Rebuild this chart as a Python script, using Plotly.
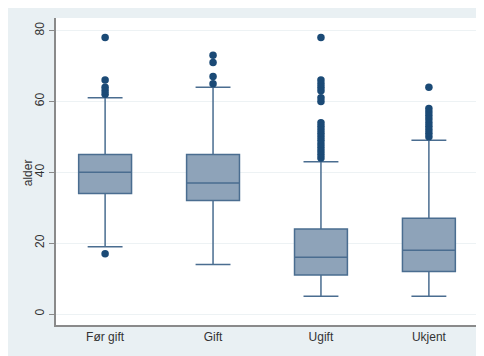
import plotly.graph_objects as go

categories = ["Før gift", "Gift", "Ugift", "Ukjent"]
q1 = [34, 32, 11, 12]
median = [40, 37, 16, 18]
q3 = [45, 45, 24, 27]
lower_whisker = [19, 14, 5, 5]
upper_whisker = [61, 64, 43, 49]
outliers = {
    "Før gift": [17, 62, 63, 64, 66, 78],
    "Gift": [65, 67, 71, 73],
    "Ugift": [44, 45, 46, 47, 48, 49, 50, 51, 52, 53, 54, 60, 61, 63, 64, 65, 66, 78],
    "Ukjent": [50, 51, 52, 53, 54, 55, 56, 57, 58, 64],
}
y_ticks = [0, 20, 40, 60, 80]
y_title = "alder"

# page body has an 8px margin, so the figure is placed at (8, 8)
W, H = 476, 348
ml, mr, mt, mb = 48, 6, 10, 31
pw = W - ml - mr

fig = go.Figure()
for i, c in enumerate(categories):
    fig.add_trace(go.Box(
        x=[c], q1=[q1[i]], median=[median[i]], q3=[q3[i]],
        lowerfence=[lower_whisker[i]], upperfence=[upper_whisker[i]],
        boxpoints=False, width=0.49, whiskerwidth=0.66,
        fillcolor="#8ea3b9", line=dict(color="#4a6d90", width=1.5),
        showlegend=False, hoverinfo="skip",
    ))

ox, oy = [], []
for c in categories:
    for v in outliers[c]:
        ox.append(c)
        oy.append(v)
fig.add_trace(go.Scatter(
    x=ox, y=oy, mode="markers",
    marker=dict(color="#1b4a76", size=7.5, line=dict(width=0)),
    showlegend=False, hoverinfo="skip",
))

fig.update_layout(
    width=W, height=H,
    margin=dict(l=ml, r=mr, t=mt, b=mb, pad=0, autoexpand=False),
    paper_bgcolor="#e9f0f3", plot_bgcolor="white",
    font=dict(family="Liberation Sans, Arial, sans-serif", size=12, color="#333333"),
    annotations=[dict(
        text=y_title, xref="paper", yref="y", x=(20 - ml) / pw, y=40,
        xanchor="center", yanchor="middle", textangle=-90, showarrow=False,
        font=dict(size=12, color="#333333"),
    )],
    xaxis=dict(
        type="category", range=[-0.455, 3.455], automargin=False,
        showline=True, linecolor="#8a8a8a", linewidth=1.5,
        ticks="", showgrid=False, zeroline=False,
        tickfont=dict(size=12, color="#333333"),
    ),
    yaxis=dict(
        range=[-3.1, 83.53], tickvals=y_ticks, automargin=False,
        showline=True, linecolor="#8a8a8a", linewidth=1.5,
        ticks="outside", ticklen=5, tickcolor="#8a8a8a", tickwidth=1,
        tickangle=-90,
        showgrid=True, gridcolor="#edf2f4", gridwidth=1,
        zeroline=False,
        tickfont=dict(size=12, color="#333333"),
    ),
)

fig.write_html("out.html")
